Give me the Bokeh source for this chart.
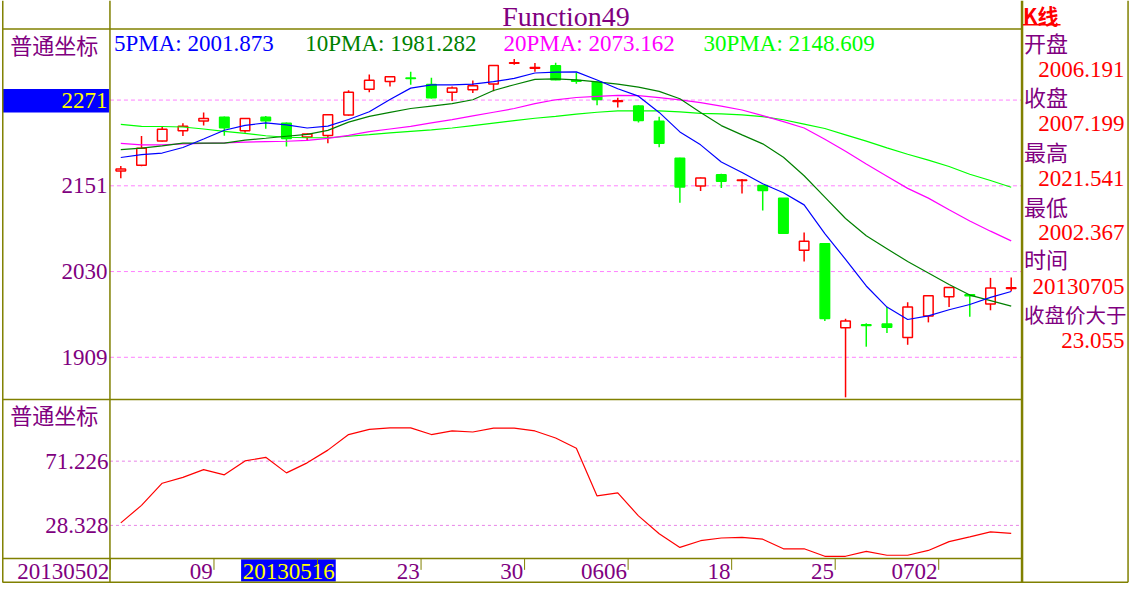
from bokeh.plotting import figure
from bokeh.models import Range1d, ColumnDataSource
from bokeh.core.properties import value
from bokeh.embed import file_html
from bokeh.resources import INLINE

# ---- values ----
dates = ["20130502", "20130503", "20130506", "20130507", "20130508", "20130509",
         "20130510", "20130513", "20130514", "20130515", "20130516", "20130517",
         "20130520", "20130521", "20130522", "20130523", "20130524", "20130527",
         "20130528", "20130529", "20130530", "20130531", "20130603", "20130604",
         "20130605", "20130606", "20130607", "20130613", "20130614", "20130617",
         "20130618", "20130619", "20130620", "20130621", "20130624", "20130625",
         "20130626", "20130627", "20130628", "20130701", "20130702", "20130703",
         "20130704", "20130705"]
opens = [2171.3, 2179.5, 2213.7, 2228.2, 2241.9, 2247.0, 2228.2, 2247.0, 2238.7, 2219.2,
         2221.4, 2250.1, 2286.3, 2297.2, 2302.2, 2293.1, 2282.2, 2285.7, 2293.9, 2323.1,
         2315.9, 2319.5, 2298.6, 2296.3, 2269.3, 2263.0, 2241.5, 2189.5, 2150.2, 2166.2,
         2158.0, 2151.1, 2133.0, 2060.1, 2069.0, 1950.9, 1955.0, 1956.3, 1937.2, 1967.3,
         1994.7, 1997.4, 1984.5, 2006.191]
highs = [2178.5, 2220.5, 2233.3, 2238.7, 2253.8, 2248.0, 2246.0, 2248.7, 2239.5, 2224.0,
         2251.5, 2284.9, 2307.2, 2305.0, 2310.9, 2302.7, 2290.4, 2298.6, 2320.5, 2329.1,
         2323.2, 2323.6, 2310.0, 2297.0, 2274.3, 2263.8, 2247.9, 2190.0, 2162.3, 2167.6,
         2160.3, 2151.8, 2133.5, 2085.0, 2069.5, 1963.6, 1957.2, 1980.0, 1986.8, 1996.5,
         2007.9, 1998.2, 2021.1, 2021.541]
lows = [2161.1, 2178.0, 2213.0, 2220.5, 2235.6, 2220.9, 2225.1, 2231.0, 2205.9, 2214.1,
        2210.4, 2249.0, 2282.2, 2290.4, 2292.6, 2273.4, 2269.8, 2281.2, 2283.5, 2320.9,
        2310.9, 2299.0, 2294.0, 2263.8, 2260.7, 2239.7, 2204.9, 2126.9, 2143.3, 2147.4,
        2139.8, 2116.0, 2082.7, 2044.0, 1960.4, 1853.1, 1924.3, 1943.5, 1927.0, 1958.5,
        1980.0, 1966.3, 1975.5, 2002.367]
closes = [2174.4, 2203.6, 2230.1, 2234.2, 2245.2, 2232.3, 2245.2, 2242.2, 2217.3, 2223.3,
          2250.7, 2282.2, 2299.0, 2304.1, 2301.5, 2274.3, 2288.0, 2291.2, 2319.9, 2323.8,
          2317.0, 2299.7, 2297.6, 2272.0, 2270.2, 2242.5, 2210.4, 2148.8, 2161.7, 2157.0,
          2158.7, 2143.9, 2084.0, 2072.7, 1964.0, 1960.4, 1954.0, 1951.7, 1980.0, 1996.0,
          2007.4, 1996.0, 2007.0, 2007.199]
ma5 = [2190.4, 2194.5, 2196.7, 2204.5, 2216.4, 2228.8, 2235.6, 2239.2, 2236.4, 2231.9,
       2234.6, 2243.8, 2254.8, 2272.0, 2288.0, 2292.6, 2292.6, 2293.5, 2297.2, 2301.7,
       2309.3, 2310.4, 2310.9, 2299.4, 2287.1, 2276.7, 2253.8, 2226.4, 2208.2, 2184.0,
       2169.4, 2153.5, 2140.9, 2123.8, 2083.4, 2047.1, 2009.7, 1980.0, 1962.6, 1967.7,
       1976.3, 1983.7, 1993.7, 2001.873]
ma10 = [2201.4, 2203.6, 2206.9, 2210.7, 2210.7, 2210.7, 2214.8, 2217.5, 2220.3, 2223.0,
        2228.5, 2240.1, 2248.3, 2253.8, 2259.3, 2262.7, 2266.1, 2271.6, 2284.6, 2292.8,
        2300.4, 2301.0, 2299.7, 2296.9, 2293.5, 2289.4, 2283.5, 2273.0, 2253.8, 2235.3,
        2222.3, 2209.6, 2190.8, 2164.8, 2134.7, 2104.6, 2080.4, 2062.2, 2044.0, 2027.9,
        2011.9, 1996.9, 1989.2, 1981.282]
ma20 = [2210.4, 2208.2, 2208.2, 2209.6, 2210.4, 2211.1, 2212.1, 2212.7, 2213.3, 2214.4,
        2217.3, 2221.6, 2226.7, 2230.5, 2234.2, 2239.0, 2243.8, 2249.0, 2254.1, 2259.3,
        2266.1, 2271.6, 2274.8, 2276.4, 2277.8, 2277.4, 2274.6, 2271.6, 2267.5, 2262.7,
        2257.2, 2249.3, 2240.8, 2231.9, 2216.2, 2199.1, 2181.3, 2164.1, 2147.0, 2133.3,
        2116.9, 2101.2, 2086.8, 2073.162]
ma30 = [2237.0, 2234.2, 2234.0, 2233.3, 2230.5, 2227.1, 2224.4, 2221.0, 2218.9, 2218.2,
        2218.2, 2220.3, 2222.6, 2225.1, 2227.1, 2229.2, 2231.9, 2235.3, 2238.8, 2242.2,
        2245.6, 2248.3, 2251.5, 2254.1, 2256.1, 2256.1, 2256.1, 2254.5, 2252.4, 2251.8,
        2250.4, 2247.9, 2243.5, 2237.4, 2231.2, 2222.3, 2213.4, 2203.9, 2195.0, 2186.7,
        2177.8, 2166.9, 2158.0, 2148.609]
indicator = [30.0, 41.7, 56.5, 60.4, 65.6, 62.1, 71.4, 73.8, 63.4, 70.1,
             78.6, 89.0, 92.4, 93.5, 93.5, 89.0, 91.4, 90.7, 93.3, 93.3,
             91.4, 86.7, 79.9, 48.0, 50.0, 34.7, 22.7, 13.6, 18.1, 19.9,
             20.3, 19.1, 12.7, 12.7, 7.7, 7.7, 11.0, 8.4, 8.4, 11.6,
             17.5, 20.7, 24.0, 23.055]

price_ticks = [1909.4, 2030.0, 2150.6, 2271.2]
price_tick_labels = ["1909", "2030", "2151", "2271"]
ind_ticks = [28.328, 71.226]
ind_tick_labels = ["28.328", "71.226"]
date_tick_idx = [0, 5, 10, 15, 20, 25, 30, 35, 40]
date_tick_labels = ["20130502", "09", "20130516", "23", "30", "0606", "18", "25", "0702"]
ma_names = ["5PMA", "10PMA", "20PMA", "30PMA"]
ma_last = ["2001.873", "1981.282", "2073.162", "2148.609"]
info_labels = ["开盘", "收盘", "最高", "最低", "时间", "收盘价大于"]
info_values = ["2006.191", "2007.199", "2021.541", "2002.367", "20130705", "23.055"]

# ---- layout: a 1147x599 "screen" coordinate system squeezed into the canvas ----
W, H = 1131, 583
SW, SH = 1147, 599
X0, STEP = 122, 21                  # screen x of first candle, px per candle
PLOT_L, PLOT_R = 111, 1036
P_REF, P_REF_Y, P_PER_PX = 2271.2, 102.3, 1.369
I_REF, I_REF_Y, I_PER_PX = 71.226, 473.3, 0.65

OLIVE = "#808000"
PURPLE = "#800080"
RED = "#FF0000"
GREEN = "#00FF00"
SERIF = "Liberation Serif"
CJK = "Noto Sans CJK SC"

p = figure(width=W, height=H, output_backend="svg", toolbar_location=None,
           x_range=Range1d(-X0 / STEP, (SW - X0) / STEP),
           y_range=Range1d(P_REF - (SH - P_REF_Y) * P_PER_PX, P_REF + P_REF_Y * P_PER_PX),
           x_axis_location=None, y_axis_location=None,
           min_border=0, outline_line_color=None, background_fill_color="white")
p.extra_x_ranges = {"px": Range1d(0, SW)}
p.extra_y_ranges = {"py": Range1d(SH, 0),
                    "ind": Range1d(I_REF - (SH - I_REF_Y) * I_PER_PX, I_REF + I_REF_Y * I_PER_PX)}
p.grid.visible = False

il = (PLOT_L - X0) / STEP
ir = (PLOT_R - 1 - X0) / STEP


def label(x, y, s, color, size, font=SERIF, align="left", xr="px", yr="py", style="normal"):
    p.text(x=[x], y=[y], text=[s], text_color=color, text_font_size=size,
           text_font=value(font), text_align=align, text_baseline="middle",
           text_font_style=style, x_range_name=xr, y_range_name=yr)


def px_seg(x0, x1, y0, y1, color=OLIVE, width=1.5):
    p.segment(x0=x0, x1=x1, y0=y0, y1=y1, line_color=color, line_width=width,
              x_range_name="px", y_range_name="py")


# highlight boxes
p.quad(left=[2], right=[110], top=[91], bottom=[115], fill_color="#0000FF", line_color=None,
       x_range_name="px", y_range_name="py")
p.quad(left=[244], right=[340], top=[574], bottom=[597], fill_color="#0000FF", line_color=None,
       x_range_name="px", y_range_name="py")

# grid lines
n = len(price_ticks)
p.segment(x0=[il] * n, x1=[ir] * n, y0=price_ticks, y1=price_ticks,
          line_color="#FF80FF", line_dash="4 3", line_width=1)
p.segment(x0=[il] * 2, x1=[ir] * 2, y0=ind_ticks, y1=ind_ticks, y_range_name="ind",
          line_color="#E884E8", line_dash="3 3", line_width=1)

# frame lines
px_seg([2, 2, 2, 2], [PLOT_R, PLOT_R, PLOT_R, 1143.5], [29.3, 410, 573.3, 597.7],
       [29.3, 410, 573.3, 597.7])
px_seg([2.3, PLOT_L, 1143.5], [2.3, PLOT_L, 1143.5], [0, 0, 0], [597.7, 597.7, 597.7])
px_seg([PLOT_R], [PLOT_R], [0], [597.7], width=2.5)
tx = [i - 0.5 for i in date_tick_idx]
p.segment(x0=tx, x1=tx, y0=[573.3] * len(tx), y1=[585] * len(tx), line_color=OLIVE,
          line_width=1, y_range_name="py")

# candles
idx = list(range(len(opens)))
up = [c >= o for o, c in zip(opens, closes)]


def candle_src(flag):
    sel = [i for i in idx if up[i] == flag]
    return ColumnDataSource(data={
        "x": sel,
        "high": [highs[i] for i in sel],
        "low": [lows[i] for i in sel],
        "top": [max(opens[i], closes[i]) for i in sel],
        "bot": [min(opens[i], closes[i]) for i in sel],
    })


up_src = candle_src(True)
dn_src = candle_src(False)
p.segment(x0="x", x1="x", y0="low", y1="high", source=up_src, line_color=RED, line_width=1.5)
p.vbar(x="x", width=0.46, top="top", bottom="bot", source=up_src,
       fill_color="white", line_color=RED, line_width=1.5)
p.segment(x0="x", x1="x", y0="low", y1="high", source=dn_src, line_color=GREEN, line_width=1.5)
p.vbar(x="x", width=0.46, top="top", bottom="bot", source=dn_src,
       fill_color=GREEN, line_color=GREEN, line_width=1.5)

# moving averages
ma_colors = ["#0000FF", "#008000", "#FF00FF", "#00FF00"]
for series, col in zip([ma30, ma20, ma10, ma5], ma_colors[::-1]):
    p.line(idx, series, line_color=col, line_width=1.2)

# indicator panel
p.line(idx, indicator, line_color=RED, line_width=1.2, y_range_name="ind")

# title and legend
label(573.5, 16, "Function49", PURPLE, "28px", align="center")
for x, name, val, col in zip([115, 309, 510, 713], ma_names, ma_last, ma_colors):
    label(x, 44, name + ": " + val, col, "23px")

# left axis labels
label(10, 45, "普通坐标", PURPLE, "22px", font=CJK)
label(10, 425, "普通坐标", PURPLE, "22px", font=CJK)
for v, s in zip(price_ticks, price_tick_labels):
    label(108.5, v, s, "#FFFF00" if s == "2271" else PURPLE, "23px", align="right", yr="default")
for v, s in zip(ind_ticks, ind_tick_labels):
    label(109.5, v, s, PURPLE, "23px", align="right", yr="ind")

# date labels
for i, s in zip(date_tick_idx, date_tick_labels):
    if s == "20130516":
        label(339, 586.5, s, "#FFFF00", "23px", align="right")
    else:
        label(i - 0.56, 586.5, s, PURPLE, "23px", align="right", xr="default")

# right info panel
label(1037, 15, "K线", RED, "21px", font=CJK, style="bold")
px_seg([1037], [1075], [25], [25], color=RED, width=1.5)
info_label_y = [42.5, 98.5, 155, 211, 265, 321.7]
info_value_y = [71, 126.7, 182.5, 238.3, 294, 349]
for lab, val, ly, vy in zip(info_labels, info_values, info_label_y, info_value_y):
    label(1038, ly, lab, PURPLE, "20.5px" if len(lab) > 2 else "22px", font=CJK)
    label(1140, vy, val, RED, "23px", align="right")

open("out.html", "w").write(file_html(p, INLINE))
